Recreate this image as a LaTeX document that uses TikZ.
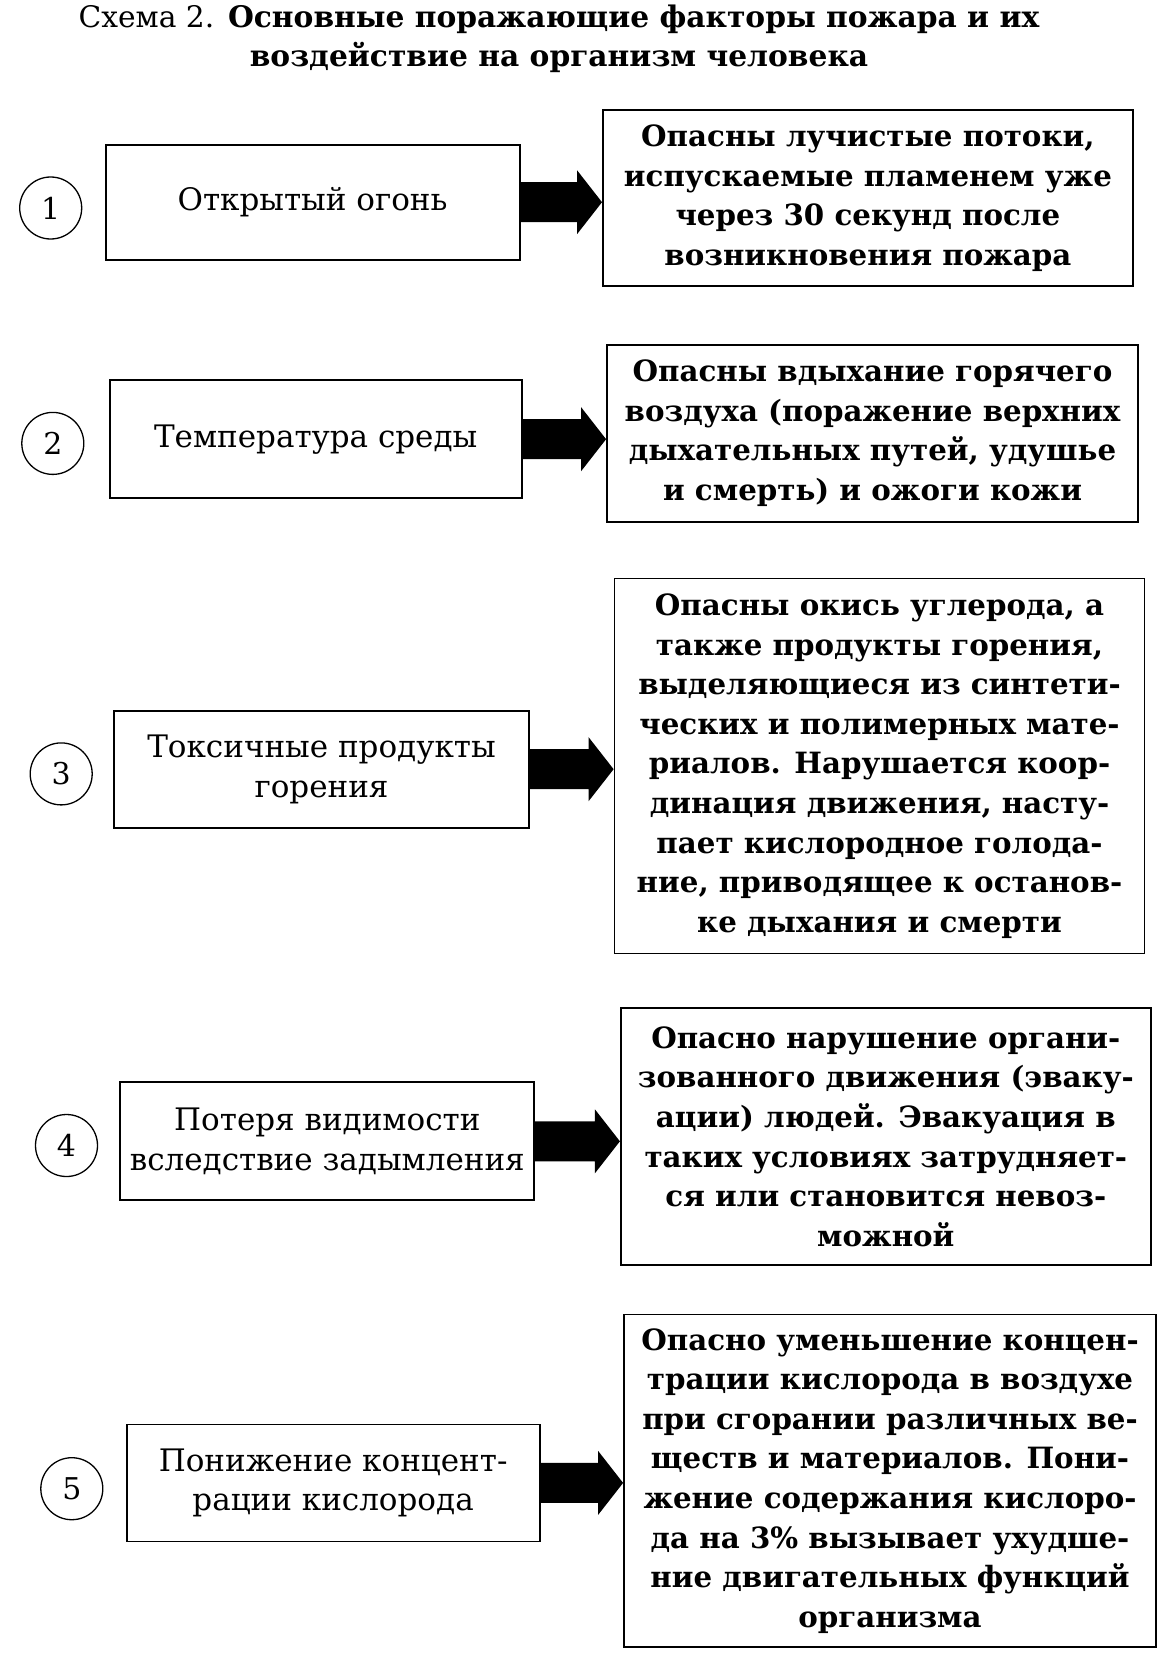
\documentclass[tikz,border=0pt]{standalone}
\usepackage{fontspec}
\setmainfont{DejaVu Serif}
\usetikzlibrary{calc}
\begin{document}
\begin{tikzpicture}[x=1pt, y=-1pt,
        factor/.style={draw, line width=1.8pt, align=center, inner sep=0pt,
            font=\fontsize{31}{39.6}\selectfont},
        effect/.style={draw, line width=1.8pt, align=center, inner sep=0pt,
            font=\fontsize{29.3}{39.6}\selectfont\bfseries},
        num/.style={draw, circle, line width=1.3pt, minimum size=62pt, inner sep=0pt,
            font=\fontsize{30}{30}\selectfont}]
        \useasboundingbox (0, 0) rectangle (1174, 1656);
        % title
        \node [align=center, font=\fontsize{29.7}{39}\selectfont\bfseries] at (559, 38.5) (T)
            {{\mdseries Схема 2.} Основные поражающие факторы пожара и их\\воздействие на организм человека};
        % row 1
        \node [num] at (50.7, 208) (N1) {1};
        \node [factor, minimum width=414pt, minimum height=115pt] at (312.6, 202.2) (F1) {Открытый огонь};
        \node [effect, minimum width=530pt, minimum height=176pt] at (867.9, 198) (E1)
            {Опасны лучистые потоки,\\испускаемые пламенем уже\\через 30 секунд после\\возникновения пожара};
        % row 2
        \node [num] at (52.8, 443.4) (N2) {2};
        \node [factor, minimum width=412pt, minimum height=118pt] at (315.7, 439.2) (F2) {Температура среды};
        \node [effect, minimum width=531pt, minimum height=177pt] at (872.5, 433.3) (E2)
            {Опасны вдыхание горячего\\воздуха (поражение верхних\\дыхательных путей, удушье\\и смерть) и ожоги кожи};
        % row 3
        \node [num] at (61.2, 773.9) (N3) {3};
        \node [factor, minimum width=415pt, minimum height=117pt] at (321.5, 769.2) (F3) {Токсичные продукты\\горения};
        \node [effect, minimum width=530pt, minimum height=375pt] at (879.5, 766) (E3)
            {Опасны окись углерода, а\\также продукты горения,\\выделяющиеся из синтети-\\ческих и полимерных мате-\\риалов. Нарушается коор-\\динация движения, насту-\\пает кислородное голода-\\ние, приводящее к останов-\\ке дыхания и смерти};
        % row 4
        \node [num] at (66.5, 1145.5) (N4) {4};
        \node [factor, minimum width=414pt, minimum height=118pt] at (327.3, 1141.3) (F4) {Потеря видимости\\вследствие задымления};
        \node [effect, minimum width=530pt, minimum height=256.5pt] at (885.8, 1136.6) (E4)
            {Опасно нарушение органи-\\зованного движения (эваку-\\ации) людей. Эвакуация в\\таких условиях затрудняет-\\ся или становится невоз-\\можной};
        % row 5
        \node [num] at (71.8, 1488.7) (N5) {5};
        \node [factor, minimum width=413pt, minimum height=117pt] at (333.1, 1482.9) (F5) {Понижение концент-\\рации кислорода};
        \node [effect, minimum width=532pt, minimum height=332.5pt] at (890, 1480.8) (E5)
            {Опасно уменьшение концен-\\трации кислорода в воздухе\\при сгорании различных ве-\\ществ и материалов. Пони-\\жение содержания кислоро-\\да на 3\% вызывает ухудше-\\ние двигательных функций\\организма};
        % thick arrows
        \foreach \i in {1,...,5}
            \fill let \p1 = (F\i.east), \p2 = (E\i.west) in
                (\x1, \y1+20pt) -- (\x2-25pt, \y1+20pt) -- (\x2-25pt, \y1+32pt) -- (\x2, \y1)
                -- (\x2-25pt, \y1-32pt) -- (\x2-25pt, \y1-20pt) -- (\x1, \y1-20pt) -- cycle;
\end{tikzpicture}
\end{document}
